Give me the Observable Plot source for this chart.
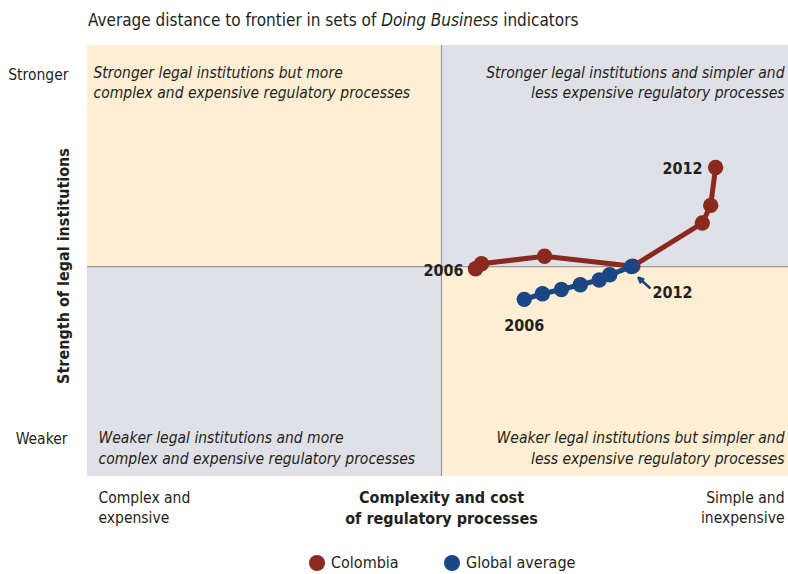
<!DOCTYPE html>
<html>
<head>
<meta charset="utf-8">
<script src="https://cdn.jsdelivr.net/npm/d3@7"></script>
<script src="https://cdn.jsdelivr.net/npm/@observablehq/plot@0.6"></script>
<style>
  html, body { margin: 0; padding: 0; background: #fff; }
  body { width: 788px; height: 574px; position: relative; overflow: hidden;
         font-family: "Liberation Sans Narrow", "DejaVu Sans Condensed", "Open Sans", sans-serif; color: #231f20; }
  #title { position: absolute; left: 88px; top: 10px; font-size: 17px; white-space: nowrap; }
  #chart { position: absolute; left: 0; top: 0; }
  #legend { position: absolute; top: 553px; left: 0; width: 788px; font-size: 16px; }
  .sw { position: absolute; display: flex; align-items: center; white-space: nowrap; }
  .sw i { display: inline-block; width: 16px; height: 16px; border-radius: 50%; margin-right: 6px; }
</style>
</head>
<body>
<div id="title">Average distance to frontier in sets of <i>Doing Business</i> indicators</div>
<div id="chart"></div>
<div id="legend"></div>
<script>
// ---- data (scale 0–100 on both axes) ----
const years = [2006, 2007, 2008, 2009, 2010, 2011, 2012];
const colombiaX = [55.35, 56.2, 65.2, 77.8, 87.7, 88.9, 89.6];
const colombiaY = [48.2, 49.35, 51.1, 48.8, 58.8, 62.9, 71.7];
const globalX = [62.3, 64.9, 67.6, 70.3, 73.0, 74.5, 77.6];
const globalY = [41.1, 42.4, 43.4, 44.5, 45.6, 46.8, 48.7];
const xMid = 50.5;   // quadrant divider, complexity
const yMid = 48.7;   // quadrant divider, legal strength
const seriesNames = ["Colombia", "Global average"];
const seriesColors = ["#8a2a1e", "#1c4584"];
const quadrantLabels = [
  "Stronger legal institutions but more\ncomplex and expensive regulatory processes",
  "Stronger legal institutions and simpler and\nless expensive regulatory processes",
  "Weaker legal institutions and more\ncomplex and expensive regulatory processes",
  "Weaker legal institutions but simpler and\nless expensive regulatory processes"
];
const yTickLabels = ["Stronger", "Weaker"];
const xTickLabels = ["Complex and\nexpensive", "Simple and\ninexpensive"];
const xTitle = "Complexity and cost\nof regulatory processes";
const yTitle = "Strength of legal institutions";

const orange = "#fdeed4", grey = "#e0e0e8", ink = "#231f20";
const font = '"Liberation Sans Narrow", "DejaVu Sans Condensed", "Open Sans", sans-serif';

const colombia = years.map((yr, i) => ({year: yr, x: colombiaX[i], y: colombiaY[i]}));
const global = years.map((yr, i) => ({year: yr, x: globalX[i], y: globalY[i]}));
const quads = [
  {x1: 0, x2: xMid, y1: yMid, y2: 100, fill: orange},
  {x1: xMid, x2: 100, y1: yMid, y2: 100, fill: grey},
  {x1: 0, x2: xMid, y1: 0, y2: yMid, fill: grey},
  {x1: xMid, x2: 100, y1: 0, y2: yMid, fill: orange}
];
const last = a => a[a.length - 1];
const yearText = d => String(d.year);

const txt = {fontFamily: font, fill: ink, lineHeight: 1.3};

const chart = Plot.plot({
  width: 788, height: 574,
  marginTop: 45, marginBottom: 98, marginLeft: 87, marginRight: 0,
  x: {domain: [0, 100], axis: null},
  y: {domain: [0, 100], axis: null},
  style: {fontFamily: font, background: "transparent"},
  marks: [
    Plot.rect(quads, {x1: "x1", x2: "x2", y1: "y1", y2: "y2", fill: "fill"}),
    Plot.ruleX([xMid], {stroke: "#999", strokeWidth: 1.2}),
    Plot.ruleY([yMid], {stroke: "#999", strokeWidth: 1.2}),
    // quadrant labels
    Plot.text([quadrantLabels[0]], {...txt, frameAnchor: "top-left", textAnchor: "start", lineAnchor: "top", dx: 6, dy: 18, fontSize: 15.5, fontStyle: "italic", text: d => d}),
    Plot.text([quadrantLabels[1]], {...txt, frameAnchor: "top-right", textAnchor: "end", lineAnchor: "top", dx: -4, dy: 18, fontSize: 15.5, fontStyle: "italic", text: d => d}),
    Plot.text([quadrantLabels[2]], {...txt, frameAnchor: "bottom-left", textAnchor: "start", lineAnchor: "bottom", dx: 11, dy: -13, fontSize: 15.5, fontStyle: "italic", text: d => d}),
    Plot.text([quadrantLabels[3]], {...txt, frameAnchor: "bottom-right", textAnchor: "end", lineAnchor: "bottom", dx: -4, dy: -13, fontSize: 15.5, fontStyle: "italic", text: d => d}),
    // axis-like labels
    Plot.text([yTickLabels[0]], {...txt, frameAnchor: "top-left", textAnchor: "end", lineAnchor: "middle", dx: -19, dy: 28, fontSize: 15.5, text: d => d}),
    Plot.text([yTickLabels[1]], {...txt, frameAnchor: "bottom-left", textAnchor: "end", lineAnchor: "middle", dx: -20, dy: -39, fontSize: 15.5, text: d => d}),
    Plot.text([yTitle], {...txt, frameAnchor: "left", textAnchor: "middle", rotate: -90, dx: -25, dy: 5, fontSize: 16, fontWeight: "bold", text: d => d}),
    Plot.text([xTickLabels[0]], {...txt, frameAnchor: "bottom-left", textAnchor: "start", lineAnchor: "top", dx: 11, dy: 12, fontSize: 15.5, text: d => d}),
    Plot.text([xTickLabels[1]], {...txt, frameAnchor: "bottom-right", textAnchor: "end", lineAnchor: "top", dx: -4, dy: 12, fontSize: 15.5, text: d => d}),
    Plot.text([xTitle], {...txt, x: () => xMid, frameAnchor: "bottom", textAnchor: "middle", lineAnchor: "top", dy: 12, fontSize: 16, fontWeight: "bold", text: d => d}),
    // Colombia
    Plot.line(colombia, {x: "x", y: "y", stroke: seriesColors[0], strokeWidth: 5, strokeLinejoin: "round"}),
    Plot.dot(colombia, {x: "x", y: "y", r: 7.7, fill: seriesColors[0]}),
    // Global average
    Plot.line(global, {x: "x", y: "y", stroke: seriesColors[1], strokeWidth: 5, strokeLinejoin: "round"}),
    Plot.dot(global, {x: "x", y: "y", r: 7.7, fill: seriesColors[1]}),
    // year labels
    Plot.text([colombia[0]], {...txt, x: "x", y: "y", text: yearText, textAnchor: "end", dx: -12, dy: 1, fontSize: 16, fontWeight: "bold"}),
    Plot.text([last(colombia)], {...txt, x: "x", y: "y", text: yearText, textAnchor: "end", dx: -13, dy: 0, fontSize: 16, fontWeight: "bold"}),
    Plot.text([global[0]], {...txt, x: "x", y: "y", text: yearText, textAnchor: "middle", dy: 25, fontSize: 16, fontWeight: "bold"}),
    Plot.text([last(global)], {...txt, x: "x", y: "y", text: yearText, textAnchor: "start", dx: 21, dy: 25, fontSize: 16, fontWeight: "bold"}),
    Plot.arrow([last(global)], {
      x1: d => d.x + 2.6, y1: d => d.y - 4.9, x2: d => d.x + 1.0, y2: d => d.y - 2.6,
      stroke: seriesColors[1], strokeWidth: 2.5, headLength: 12, headAngle: 50, bend: false})
  ]
});
document.getElementById("chart").append(chart);

// legend
const legend = document.getElementById("legend");
const lx = [309, 444];
seriesNames.forEach((name, i) => {
  const s = document.createElement("div");
  s.className = "sw";
  s.style.left = lx[i] + "px";
  s.innerHTML = `<i style="background:${seriesColors[i]}"></i>${name}`;
  legend.append(s);
});
</script>
</body>
</html>
